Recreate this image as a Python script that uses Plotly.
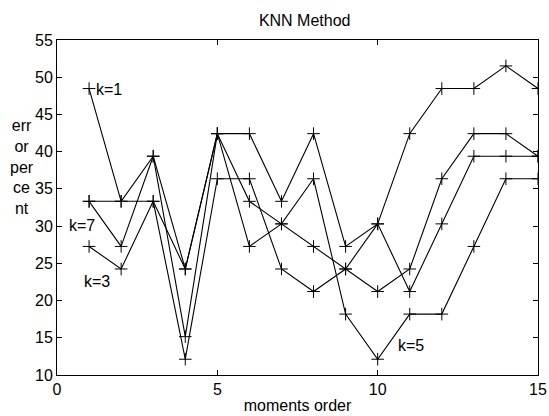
import plotly.graph_objects as go

# moments order on the x axis
orders = list(range(1, 16))

# error percent for each neighbour count
err_k1 = [48.48, 33.33, 39.39, 24.24, 42.42, 42.42, 33.33, 42.42, 27.27, 30.30, 42.42, 48.48, 48.48, 51.52, 48.48]
err_k7 = [33.33, 33.33, 33.33, 24.24, 42.42, 33.33, 30.30, 27.27, 24.24, 21.21, 24.24, 36.36, 42.42, 42.42, 39.39]
err_k3 = [27.27, 24.24, 33.33, 12.12, 36.36, 36.36, 24.24, 21.21, 24.24, 30.30, 21.21, 30.30, 39.39, 39.39, 39.39]
err_k5 = [33.33, 27.27, 39.39, 15.15, 42.42, 27.27, 30.30, 36.36, 18.18, 12.12, 18.18, 18.18, 27.27, 36.36, 36.36]

series = [("k=1", err_k1), ("k=7", err_k7), ("k=3", err_k3), ("k=5", err_k5)]

# in-plot labels: text, x, y
label_text = ["k=1", "k=7", "k=3", "k=5"]
label_x = [1.15, 0.32, 0.78, 10.56]
label_y = [48.3, 30.1, 22.6, 13.9]

x_ticks = [0, 5, 10, 15]
y_ticks = [10, 15, 20, 25, 30, 35, 40, 45, 50, 55]

FONT = "Liberation Sans, Arial, sans-serif"
FS = 16

fig = go.Figure()
for name, vals in series:
    fig.add_trace(go.Scatter(
        x=orders, y=vals, mode="lines+markers", name=name,
        line=dict(color="black", width=1.1),
        marker=dict(symbol="cross-thin-open", size=9,
                    line=dict(color="black", width=1), color="black"),
        showlegend=False,
    ))

for t, lx, ly in zip(label_text, label_x, label_y):
    fig.add_annotation(x=lx, y=ly, text=t, showarrow=False,
                       xanchor="left", yanchor="middle",
                       font=dict(family=FONT, size=FS, color="black"))

# stacked y-axis caption
fig.add_annotation(xref="paper", yref="paper", x=-0.072, y=0.62,
                   text="err<br>or<br>per<br>ce<br>nt", showarrow=False,
                   xanchor="center", yanchor="middle", align="center",
                   font=dict(family=FONT, size=FS, color="black"))

axis_common = dict(
    showline=True, linecolor="black", linewidth=1, mirror="ticks",
    ticks="inside", ticklen=5, tickcolor="black", tickwidth=1,
    showgrid=False, zeroline=False, automargin=False,
    tickfont=dict(family=FONT, size=FS, color="black"),
)

fig.update_xaxes(range=[0, 15], tickvals=x_ticks,
                 title=dict(text="moments order", standoff=2,
                            font=dict(family=FONT, size=FS, color="black")),
                 **axis_common)
fig.update_yaxes(range=[10, 55], tickvals=y_ticks, **axis_common)

fig.update_layout(
    width=549, height=416,
    margin=dict(l=57, r=11, t=40, b=41),
    paper_bgcolor="white", plot_bgcolor="white",
    title=dict(text="KNN Method", x=0.555, xanchor="center", y=0.95, yanchor="middle",
               font=dict(family=FONT, size=FS, color="black")),
)

fig.write_html("out.html")
